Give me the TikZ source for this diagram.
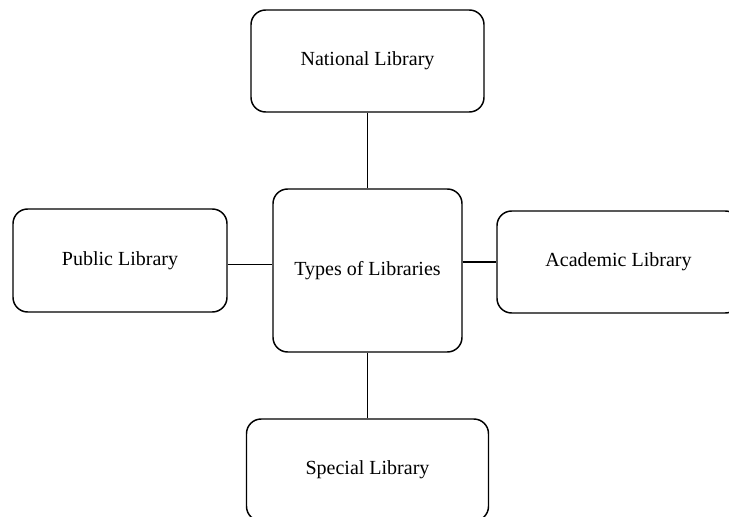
\documentclass[tikz,border=0pt]{standalone}
\usepackage{fontspec}
\setmainfont{Liberation Serif}

\tikzset{
  libbox/.style={shape=rectangle,draw,rounded corners=11pt,line width=1.1pt,
    inner sep=0pt,font=\fontsize{15}{18}\selectfont},
  link/.style={line width=0.8pt}
}

\begin{document}
\begin{tikzpicture}[x=0.75pt,y=-0.75pt]
\useasboundingbox (0,0) rectangle (729,517);
\node[libbox,minimum width=189*0.75pt,minimum height=163*0.75pt] (types) at (367.5,270.5) {Types of Libraries};
\node[libbox,minimum width=233*0.75pt,minimum height=102*0.75pt] (national) at (367.5,61) {National Library};
\node[libbox,minimum width=214*0.75pt,minimum height=103*0.75pt] (public) at (120,260.5) {Public Library};
\node[libbox,minimum width=243*0.75pt,minimum height=102*0.75pt] (academic) at (618.5,262) {Academic Library};
\node[libbox,minimum width=242*0.75pt,minimum height=102*0.75pt] (special) at (367.5,470) {Special Library};
\draw[link] (national) -- (types);
\draw[link] (types) -- (special);
\draw[link] ([yshift=-3pt]public.east) -- ([yshift=-3pt]public.east -| types.west);
\draw[link] (academic.west -| types.east) -- (academic.west);
\end{tikzpicture}
\end{document}
